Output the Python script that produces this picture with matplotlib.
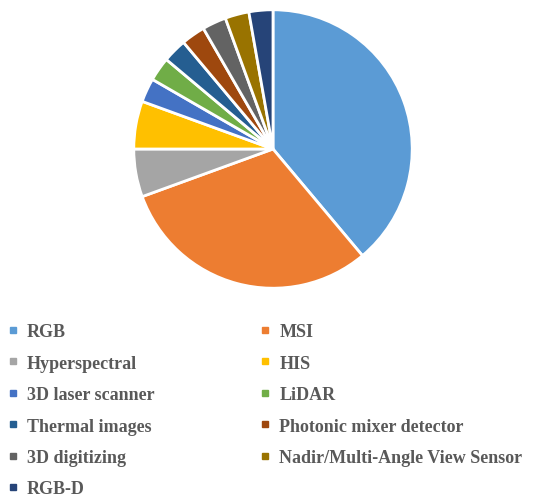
import matplotlib
matplotlib.use('Agg')
import matplotlib.pyplot as plt
from matplotlib.lines import Line2D

labels = ['RGB', 'MSI', 'Hyperspectral', 'HIS', '3D laser scanner', 'LiDAR',
          'Thermal images', 'Photonic mixer detector', '3D digitizing',
          'Nadir/Multi-Angle View Sensor', 'RGB-D']
counts = [14, 11, 2, 2, 1, 1, 1, 1, 1, 1, 1]
colors = ['#5B9BD5', '#ED7D31', '#A5A5A5', '#FFC000', '#4472C4', '#70AD47',
          '#255E91', '#9E480E', '#636363', '#997300', '#264478']

W, H = 550, 502
fig = plt.figure(figsize=(W / 100, H / 100), dpi=100)

cx, cy, r = 273, 150, 142
ax = fig.add_axes([(cx - r) / W, 1 - (cy + r) / H, 2 * r / W, 2 * r / H])
ax.pie(counts, colors=colors, startangle=90, counterclock=False, radius=1,
       wedgeprops=dict(edgecolor='white', linewidth=2))
ax.set_xlim(-1.02, 1.02)
ax.set_ylim(-1.02, 1.02)
ax.set_aspect('auto')
ax.axis('off')

handles = [Line2D([], [], marker='s', linestyle='none', markersize=4.5,
                  markerfacecolor=c, markeredgecolor=c) for c in colors]
# legend is read row by row in the reference, matplotlib fills by column
order = list(range(0, len(labels), 2)) + list(range(1, len(labels), 2))
leg = fig.legend([handles[i] for i in order], [labels[i] for i in order],
                 ncol=2, loc='upper left',
                 bbox_to_anchor=(0.0, 1 - 317 / H, 0.963, 0), mode='expand',
                 frameon=False, handlelength=0.6, handletextpad=0.5,
                 labelspacing=0.8, borderaxespad=0,
                 prop=dict(family='Liberation Serif', weight='bold', size=13))
for t in leg.get_texts():
    t.set_color('#595959')

fig.savefig('out.png', dpi=100)
